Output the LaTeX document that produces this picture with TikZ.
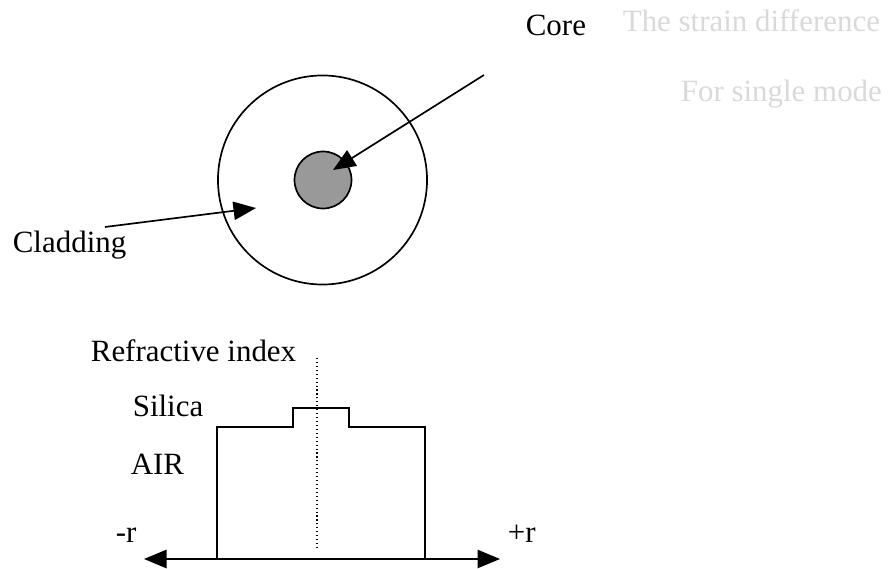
\documentclass[tikz,border=0pt]{standalone}
\usepackage{fontspec}
\setmainfont{Liberation Serif}
\usetikzlibrary{positioning, arrows.meta, calc}

\begin{document}
\begin{tikzpicture}[x=0.025cm, y=-0.025cm, >={Triangle[length=16pt, width=13pt]},
    font=\fontsize{22}{26}\selectfont, line width=1.2pt,
    lab/.style={anchor=base west, inner sep=0pt},
    faint/.style={lab, text=gray!30}]

    \useasboundingbox (0,0) rectangle (889,569);

    % Rozměry (v pixelech)
    \def\Dclad{5.225cm}
    \def\Dcore{1.425cm}
    \def\Ylow{427}
    \def\Yhigh{408}
    \def\Yaxis{559}

    % 1. Průřez vláknem
    \node[circle, draw, inner sep=0pt, minimum size=\Dclad] (clad) at (322.5,180) {};
    \node[circle, draw, fill=gray!80, inner sep=0pt, minimum size=\Dcore] (core) at (323,180) {};

    % Popisky a šipky
    \node[lab] (corelab) at (525,36) {Core};
    \node[lab] (cladlab) at (12,253) {Cladding};
    \coordinate (coreTail) at (484,75);
    \coordinate (coreTip) at ($(core.center)+(10,-10)$);
    \coordinate (cladTail) at (105,227);
    \coordinate (cladTip) at (256,208);
    \draw[->] (coreTail) -- (coreTip);
    \draw[->] (cladTail) -- (cladTip);

    % prosvítající text z druhé strany
    \node[faint] (bleedA) at (622,32) {The strain difference};
    \node[faint] (bleedB) at (680,102) {For single mode};

    % 2. Profil indexu lomu
    \node[anchor=base east, inner sep=0pt] (rilab) at (297,362) {Refractive index};
    \node[lab] (silab) at (132,417) {Silica};
    \node[lab] (airlab) at (130,475) {AIR};
    \node[lab] (mrlab) at (115,543) {-r};
    \node[lab] (prlab) at (507,543) {+r};

    \coordinate (axL) at (144,\Yaxis);
    \coordinate (axR) at (500,\Yaxis);
    \draw[<->] (axL) -- (axR);

    \draw (217,\Yaxis) -- (217,\Ylow) -- (293,\Ylow) -- (293,\Yhigh)
        -- (349,\Yhigh) -- (349,\Ylow) -- (425,\Ylow) -- (425,\Yaxis);

    \coordinate (symTop) at (317,358);
    \coordinate (symBot) at (317,550);
    \draw[dotted, line width=0.8pt] (symTop) -- (symBot);

\end{tikzpicture}
\end{document}
